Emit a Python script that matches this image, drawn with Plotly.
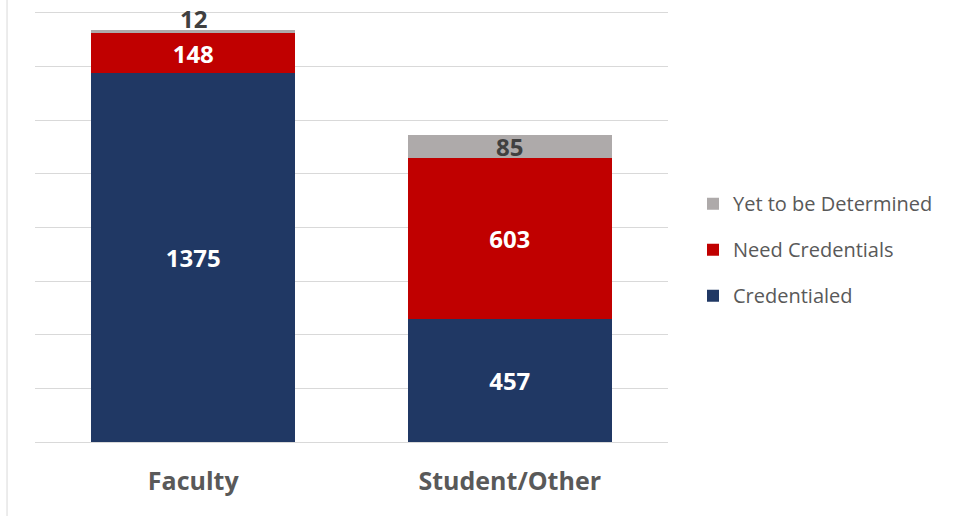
import plotly.graph_objects as go

categories = ["Faculty", "Student/Other"]
credentialed = [1375, 457]
need_credentials = [148, 603]
yet_to_be_determined = [12, 85]

blue = "#203864"
red = "#C00000"
gray = "#AEAAAA"
font_family = "Open Sans"
label_size = 24

fig = go.Figure()
fig.add_trace(go.Bar(
    x=categories, y=credentialed, name="Credentialed",
    marker=dict(color=blue, line=dict(width=0)),
    text=[str(v) for v in credentialed], textposition="inside",
    insidetextanchor="middle", textangle=0,
    textfont=dict(color="white", size=label_size, family=font_family, weight="bold"),
    legendgroup="c", legendrank=3,
))
fig.add_trace(go.Bar(
    x=categories, y=need_credentials, name="Need Credentials",
    marker=dict(color=red, line=dict(width=0)),
    text=[str(v) for v in need_credentials], textposition="inside",
    insidetextanchor="middle", textangle=0,
    textfont=dict(color="white", size=label_size, family=font_family, weight="bold"),
    legendgroup="n", legendrank=2,
))

# Gray segment: thin on Faculty, so its label sits above the bar (as annotation)
gray_text = []
annotations = []
for i, cat in enumerate(categories):
    v = yet_to_be_determined[i]
    total = credentialed[i] + need_credentials[i] + v
    if v < 40:
        gray_text.append("")
        annotations.append(dict(
            x=cat, y=total, xref="x", yref="y", text=str(v), showarrow=False,
            yanchor="middle", yshift=12,
            font=dict(color="#404040", size=label_size, family=font_family, weight="bold"),
        ))
    else:
        gray_text.append(str(v))

fig.add_trace(go.Bar(
    x=categories, y=yet_to_be_determined, name="Yet to be Determined",
    marker=dict(color=gray, line=dict(width=0)),
    text=gray_text, textposition="inside",
    insidetextanchor="middle", textangle=0,
    textfont=dict(color="#404040", size=label_size, family=font_family, weight="bold"),
    legendgroup="y", legendrank=1,
))

fig.update_layout(
    barmode="stack",
    bargap=0.355,
    width=956, height=516,
    margin=dict(l=35, r=288, t=2, b=74),
    paper_bgcolor="white", plot_bgcolor="white",
    font=dict(family=font_family, color="#595959"),
    showlegend=True,
    annotations=annotations,
    legend=dict(
        x=1.0395, y=0.586, xanchor="left", yanchor="top",
        traceorder="grouped", tracegroupgap=17,
        font=dict(size=20, color="#595959", family=font_family),
        itemwidth=30,
    ),
    xaxis=dict(
        showgrid=False, showline=False, zeroline=False, ticks="",
        tickfont=dict(size=25, color="#595959", family=font_family, weight="bold"),
        ticklabelstandoff=22,
    ),
    yaxis=dict(
        range=[0, 1640], tick0=0, dtick=200, showticklabels=False,
        showgrid=True, gridcolor="#D9D9D9", gridwidth=1,
        zeroline=True, zerolinecolor="#D9D9D9", zerolinewidth=1,
        showline=False,
    ),
    shapes=[dict(type="line", xref="paper", yref="paper",
                 x0=-0.0442, x1=-0.0442, y0=-0.18, y1=1.01,
                 line=dict(color="#D9D9D9", width=1))],
)
fig.update_traces(constraintext="none")

fig.write_html("out.html", post_script="document.body.style.margin='0';",
               config={"displayModeBar": False})
